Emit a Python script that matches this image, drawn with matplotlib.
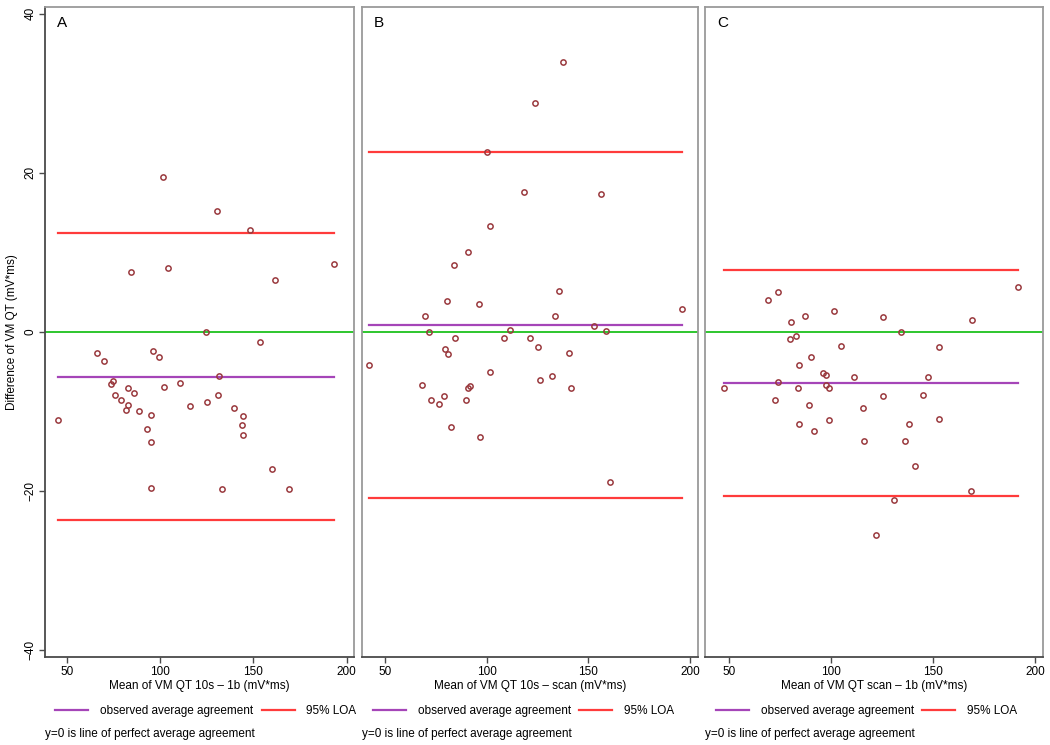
import matplotlib
from matplotlib import pyplot as plt
from matplotlib.lines import Line2D

matplotlib.use("agg")
plt.rcParams["font.family"] = ["Liberation Sans", "DejaVu Sans"]

# A: 10s vs 1b
a_mean = [101.6, 130.7, 148.2, 84.5, 104.4, 193.1, 161.5, 124.8, 153.5, 66.0,
          69.9, 96.4, 99.6, 131.8, 74.8, 73.7, 82.9, 76.1, 86.0, 102.3,
          110.9, 79.0, 83.0, 81.6, 88.9, 95.0, 116.0, 125.2, 131.1, 139.5,
          144.3, 143.9, 144.3, 93.3, 95.3, 45.5, 95.0, 133.2, 159.8, 169.1]
a_diff = [19.5, 15.2, 12.8, 7.5, 8.0, 8.5, 6.5, 0.0, -1.2, -2.7,
          -3.6, -2.4, -3.2, -5.5, -6.2, -6.6, -7.0, -7.9, -7.7, -6.9,
          -6.4, -8.6, -9.2, -9.8, -9.9, -10.4, -9.3, -8.8, -7.9, -9.6,
          -10.5, -11.7, -12.9, -12.2, -13.8, -11.1, -19.6, -19.7, -17.2, -19.8]
a_avg = -5.6
a_loa = [12.5, -23.6]

# B: 10s vs scan
b_mean = [137.6, 123.7, 100.0, 118.2, 156.1, 101.8, 90.5, 84.0, 135.4, 80.2,
          96.0, 69.4, 133.5, 195.9, 152.6, 71.6, 111.4, 158.9, 84.3, 108.3,
          121.2, 125.4, 79.2, 80.9, 140.3, 42.0, 101.5, 126.4, 131.9, 141.2,
          67.9, 91.8, 90.7, 78.9, 72.4, 76.6, 89.5, 82.5, 96.4, 160.4]
b_diff = [34.0, 28.8, 22.6, 17.6, 17.4, 13.3, 10.1, 8.4, 5.2, 3.9,
          3.5, 2.0, 2.0, 2.85, 0.7, 0.05, 0.2, 0.1, -0.75, -0.75,
          -0.8, -1.9, -2.2, -2.8, -2.7, -4.1, -5.0, -6.0, -5.5, -7.1,
          -6.7, -6.75, -7.0, -8.1, -8.6, -9.1, -8.5, -11.9, -13.2, -18.8]
b_avg = 0.85
b_loa = [22.6, -20.9]

# C: scan vs 1b
c_mean = [191.6, 74.0, 69.3, 101.8, 87.3, 125.4, 169.1, 80.3, 134.6, 83.2,
          79.9, 104.8, 152.9, 90.1, 84.2, 96.3, 97.8, 111.2, 147.6, 74.4,
          97.8, 99.0, 83.9, 47.6, 72.7, 125.8, 145.3, 89.3, 115.9, 99.1,
          152.9, 84.2, 138.4, 91.6, 116.2, 136.2, 141.3, 168.9, 131.2, 122.1]
c_diff = [5.66, 5.0, 4.0, 2.7, 2.0, 1.84, 1.5, 1.3, 0.0, -0.46,
          -0.92, -1.8, -1.9, -3.2, -4.2, -5.2, -5.4, -5.6, -5.7, -6.3,
          -6.7, -7.0, -7.0, -7.1, -8.55, -8.0, -7.9, -9.2, -9.5, -11.1,
          -10.9, -11.6, -11.6, -12.5, -13.7, -13.75, -16.9, -20.0, -21.1, -25.5]
c_avg = -6.4
c_loa = [7.76, -20.6]

letters = ["A", "B", "C"]
xlabels = ["Mean of VM QT 10s \u2013 1b (mV*ms)",
           "Mean of VM QT 10s \u2013 scan (mV*ms)",
           "Mean of VM QT scan \u2013 1b (mV*ms)"]

GREEN = "#2ec62e"
PURPLE = "#a545b8"
RED = "#ff3b3b"
DOT = "#9a3a3e"
AXIS = "#4a4a4a"
FRAME = "#9a9a9a"
FS = 8.5


def bland_altman(ax, mean, diff, avg, loa, letter, xlabel, first):
    lo, hi = min(mean), max(mean)
    ax.axhline(0, color=GREEN, lw=1.4, zorder=1)
    ax.plot([lo, hi], [avg, avg], color=PURPLE, lw=1.6, zorder=2)
    for v in loa:
        ax.plot([lo, hi], [v, v], color=RED, lw=1.6, zorder=2)
    ax.plot(mean, diff, "o", ms=3.8, mfc="none", mec=DOT, mew=1.1, zorder=3)

    ax.set_xlim(38.4, 204.1)
    ax.set_ylim(-40.9, 40.9)
    ax.set_xticks([50, 100, 150, 200])
    ax.set_yticks([-40, -20, 0, 20, 40])
    ax.tick_params(axis="x", direction="out", length=4, width=1, color=AXIS,
                   labelsize=FS, pad=2)
    for s in ("top", "right", "left"):
        ax.spines[s].set_color(FRAME)
        ax.spines[s].set_linewidth(1.3)
    ax.spines["bottom"].set_color(AXIS)
    ax.spines["bottom"].set_linewidth(1.3)
    if first:
        ax.spines["left"].set_color(AXIS)
        ax.tick_params(axis="y", direction="out", length=4, width=1, color=AXIS,
                       labelsize=FS, pad=2)
        for t in ax.get_yticklabels():
            t.set_rotation(90)
            t.set_va("center")
        ax.set_ylabel("Difference of VM QT (mV*ms)", fontsize=FS, labelpad=5)
    else:
        ax.tick_params(axis="y", left=False, labelleft=False)
    ax.set_xlabel(xlabel, fontsize=FS, labelpad=2)

    ax.annotate(letter, xy=(0, 1), xycoords="axes fraction", xytext=(12, -23),
                textcoords="offset pixels", fontsize=11, ha="left", va="bottom")

    handles = [Line2D([], [], color=PURPLE, lw=1.6),
               Line2D([], [], color=RED, lw=1.6)]
    ax.legend(handles, ["observed average agreement", "95% LOA"], ncol=2,
              loc="center left", bbox_to_anchor=(0.022, -0.082), frameon=False,
              fontsize=FS, handlelength=2.8, handletextpad=1.0,
              columnspacing=0.7, borderaxespad=0, borderpad=0.3)
    ax.text(0.0, -0.118, "y=0 is line of perfect average agreement",
            transform=ax.transAxes, fontsize=FS, ha="left", va="center")


fig = plt.figure(figsize=(10.5, 7.45), dpi=100)
W, H = 1050, 745
boxes = [(45, 354.3), (361.7, 698.3), (705, 1043.3)]
top, bottom = 6.7, 657.3
data = [(a_mean, a_diff, a_avg, a_loa),
        (b_mean, b_diff, b_avg, b_loa),
        (c_mean, c_diff, c_avg, c_loa)]
for i, (x0, x1) in enumerate(boxes):
    ax = fig.add_axes([x0 / W, 1 - bottom / H, (x1 - x0) / W, (bottom - top) / H])
    m, d, avg, loa = data[i]
    bland_altman(ax, m, d, avg, loa, letters[i], xlabels[i], i == 0)

plt.savefig("out.png", dpi=100)
